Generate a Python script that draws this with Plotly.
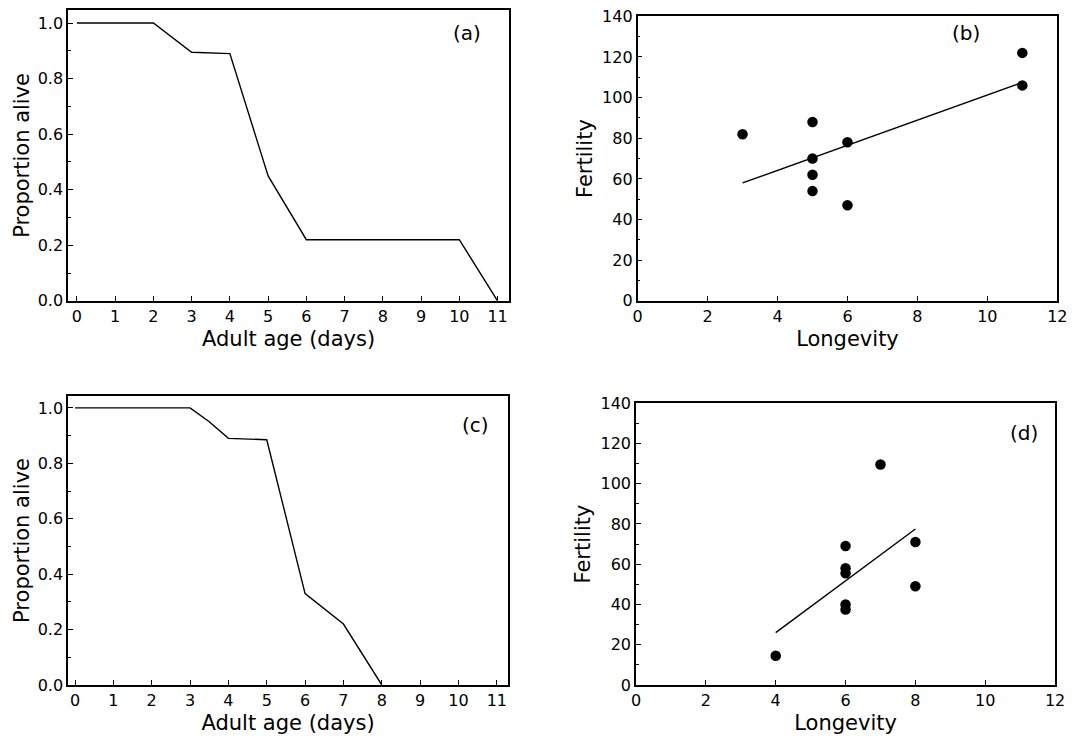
import plotly.graph_objects as go

# Panel (a) survivorship
age_a = [0, 2, 3, 4, 5, 6, 10, 11]
alive_a = [1.0, 1.0, 0.895, 0.89, 0.45, 0.22, 0.22, 0.0]
# Panel (c) survivorship
age_c = [0, 3, 3.5, 4, 5, 6, 7, 8]
alive_c = [1.0, 1.0, 0.95, 0.89, 0.885, 0.33, 0.22, 0.0]
# Panel (b) longevity vs fertility
long_b = [3, 5, 5, 5, 5, 6, 6, 11, 11]
fert_b = [82, 88, 70, 62, 54, 78, 47, 122, 106]
fit_b_x = [3, 11]
fit_b_y = [58, 107.5]
# Panel (d)
long_d = [4, 6, 6, 6, 6, 6, 7, 8, 8]
fert_d = [14.5, 69, 58, 55.5, 40, 37.5, 109.5, 71, 49]
fit_d_x = [4, 8]
fit_d_y = [26, 77.5]

FONT = "DejaVu Sans, Liberation Sans, sans-serif"

fig = go.Figure()
line = dict(color="black", width=1.4)
mk = dict(color="black", size=10.5)

fig.add_trace(go.Scatter(x=age_a, y=alive_a, mode="lines", line=line, xaxis="x", yaxis="y"))
fig.add_trace(go.Scatter(x=long_b, y=fert_b, mode="markers", marker=mk, xaxis="x2", yaxis="y2"))
fig.add_trace(go.Scatter(x=fit_b_x, y=fit_b_y, mode="lines", line=line, xaxis="x2", yaxis="y2"))
fig.add_trace(go.Scatter(x=age_c, y=alive_c, mode="lines", line=line, xaxis="x3", yaxis="y3"))
fig.add_trace(go.Scatter(x=long_d, y=fert_d, mode="markers", marker=mk, xaxis="x4", yaxis="y4"))
fig.add_trace(go.Scatter(x=fit_d_x, y=fit_d_y, mode="lines", line=line, xaxis="x4", yaxis="y4"))

common = dict(showline=True, linecolor="black", linewidth=1.6, mirror=True, automargin=False,
              showgrid=False, zeroline=False, ticks="inside", ticklen=5,
              tickcolor="black", tickfont=dict(size=16, color="black", family=FONT),
              title_font=dict(size=21, color="black", family=FONT))

age_ticks = list(range(0, 12))
fig.update_layout(
    template="none",
    width=1090, height=741, showlegend=False,
    plot_bgcolor="white", paper_bgcolor="white",
    margin=dict(l=0, r=0, t=0, b=0),
    font=dict(family=FONT, color="black"),
    xaxis=dict(common, domain=[0.0625, 0.467], range=[-0.23, 11.3], tickvals=age_ticks,
               title=dict(text="Adult age (days)", standoff=6), anchor="y"),
    yaxis=dict(common, domain=[0.594, 0.9865], range=[0, 1.047], tickvals=[0, 0.2, 0.4, 0.6, 0.8, 1.0],
               tickformat=".1f", minor=dict(ticks="inside", ticklen=3, dtick=0.1, tickcolor="black"),
               title=dict(text="Proportion alive", standoff=2), anchor="x"),
    xaxis2=dict(common, domain=[0.585, 0.970], range=[0, 12], dtick=2,
                title=dict(text="Longevity", standoff=6), anchor="y2"),
    yaxis2=dict(common, domain=[0.594, 0.978], range=[0, 140], dtick=20,
                minor=dict(ticks="inside", ticklen=3, dtick=10, tickcolor="black"),
                title=dict(text="Fertility", standoff=4), anchor="x2"),
    xaxis3=dict(common, domain=[0.0625, 0.466], range=[-0.18, 11.29], tickvals=age_ticks,
                title=dict(text="Adult age (days)", standoff=6), anchor="y3"),
    yaxis3=dict(common, domain=[0.0756, 0.4656], range=[0, 1.043], tickvals=[0, 0.2, 0.4, 0.6, 0.8, 1.0],
                tickformat=".1f", minor=dict(ticks="inside", ticklen=3, dtick=0.1, tickcolor="black"),
                title=dict(text="Proportion alive", standoff=2), anchor="x3"),
    xaxis4=dict(common, domain=[0.5835, 0.968], range=[0, 12], dtick=2,
                title=dict(text="Longevity", standoff=6), anchor="y4"),
    yaxis4=dict(common, domain=[0.0756, 0.456], range=[0, 140], dtick=20,
                minor=dict(ticks="inside", ticklen=3, dtick=10, tickcolor="black"),
                title=dict(text="Fertility", standoff=4), anchor="x4"),
)

lab = dict(showarrow=False, font=dict(size=20, color="black", family=FONT))
fig.add_annotation(text="(a)", x=10.2, y=0.965, xref="x", yref="y", **lab)
fig.add_annotation(text="(b)", x=9.4, y=132, xref="x2", yref="y2", **lab)
fig.add_annotation(text="(c)", x=10.45, y=0.94, xref="x3", yref="y3", **lab)
fig.add_annotation(text="(d)", x=11.1, y=125, xref="x4", yref="y4", **lab)

fig.write_html("out.html", config={"displayModeBar": False},
               post_script="document.body.style.margin='0';document.body.style.overflow='hidden';")
